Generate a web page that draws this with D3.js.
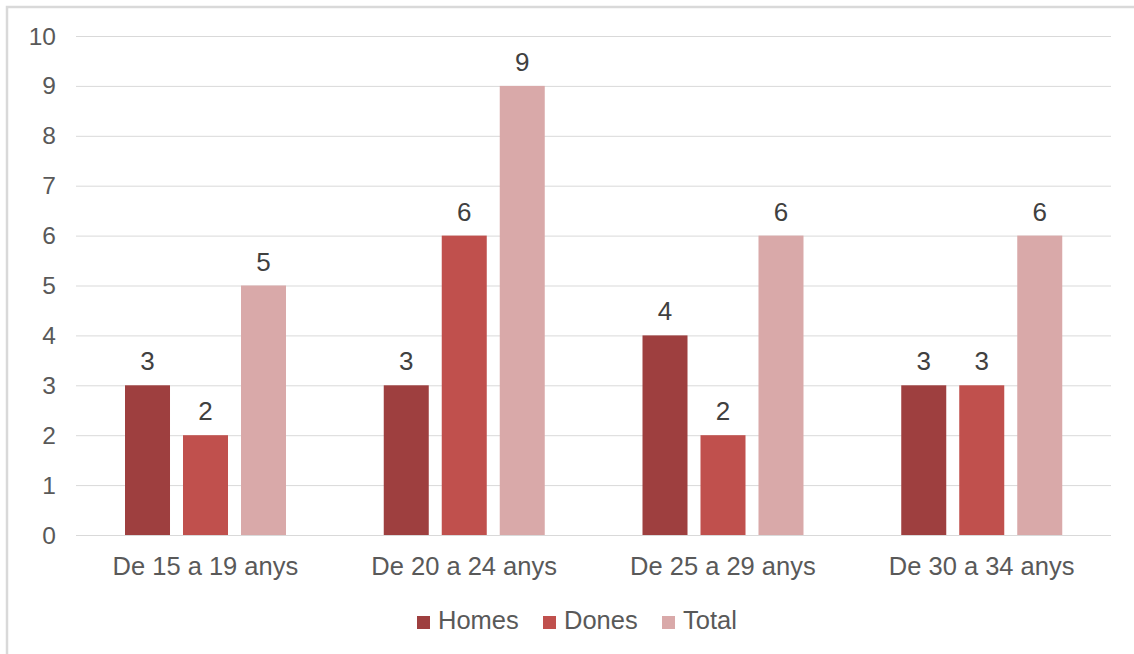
<!DOCTYPE html>
<html>
<head>
<meta charset="utf-8">
<script src="https://cdn.jsdelivr.net/npm/d3@7"></script>
<style>
  body { margin: 0; background: #fff; }
  text { font-family: "Liberation Sans", Arial, sans-serif; }
</style>
</head>
<body>
<script>
//chart data
var categories = ["De 15 a 19 anys", "De 20 a 24 anys", "De 25 a 29 anys", "De 30 a 34 anys"];
var seriesNames = ["Homes", "Dones", "Total"];
var homes = [3, 3, 4, 3];
var dones = [2, 6, 2, 3];
var total = [5, 9, 6, 6];
var yTicks = [0, 1, 2, 3, 4, 5, 6, 7, 8, 9, 10];
var colors = ["#9e3f3f", "#c0504d", "#d9a9a9"];

var width = 1134, height = 654;
var seriesValues = [homes, dones, total];

var svg = d3.select("body").append("svg")
    .attr("width", width)
    .attr("height", height);

//chart frame
svg.append("path")
    .attr("d", "M7,654 V7 H1134")
    .attr("fill", "none")
    .attr("stroke", "#d9d9d9")
    .attr("stroke-width", 2.5);

//scales
var x0 = d3.scaleBand()
    .domain(categories)
    .range([76, 1111]);

var x1 = d3.scaleBand()
    .domain(seriesNames)
    .range([49, 210])
    .paddingInner(0.224);

var y = d3.scaleLinear()
    .domain([0, 10])
    .range([535, 36]);

//gridlines
svg.selectAll(".grid")
    .data(yTicks)
    .enter()
    .append("line")
    .attr("class", "grid")
    .attr("x1", 76)
    .attr("x2", 1111)
    .attr("y1", function(d){ return y(d) + 0.5; })
    .attr("y2", function(d){ return y(d) + 0.5; })
    .attr("stroke", "#d9d9d9")
    .attr("stroke-width", 1);

//y tick labels
svg.selectAll(".ytick")
    .data(yTicks)
    .enter()
    .append("text")
    .attr("class", "ytick")
    .attr("x", 56)
    .attr("y", function(d){ return y(d); })
    .attr("dy", "0.35em")
    .attr("text-anchor", "end")
    .attr("font-size", 24.5)
    .attr("fill", "#595959")
    .text(function(d){ return d; });

//bars
var groups = svg.selectAll(".group")
    .data(categories)
    .enter()
    .append("g")
    .attr("class", "group")
    .attr("transform", function(d){ return "translate(" + x0(d) + ",0)"; });

groups.selectAll("rect")
    .data(function(d, i){
        return seriesNames.map(function(s, j){ return {series: s, value: seriesValues[j][i], color: colors[j]}; });
    })
    .enter()
    .append("rect")
    .attr("x", function(d){ return x1(d.series); })
    .attr("width", x1.bandwidth())
    .attr("y", function(d){ return y(d.value); })
    .attr("height", function(d){ return y(0) - y(d.value); })
    .attr("fill", function(d){ return d.color; });

//data labels
groups.selectAll(".label")
    .data(function(d, i){
        return seriesNames.map(function(s, j){ return {series: s, value: seriesValues[j][i]}; });
    })
    .enter()
    .append("text")
    .attr("class", "label")
    .attr("x", function(d){ return x1(d.series) + x1.bandwidth() / 2; })
    .attr("y", function(d){ return y(d.value) - 15; })
    .attr("text-anchor", "middle")
    .attr("font-size", 26)
    .attr("fill", "#404040")
    .text(function(d){ return d.value; });

//category labels
svg.selectAll(".xlabel")
    .data(categories)
    .enter()
    .append("text")
    .attr("class", "xlabel")
    .attr("x", function(d){ return x0(d) + x0.bandwidth() / 2; })
    .attr("y", 575)
    .attr("text-anchor", "middle")
    .attr("font-size", 25.5)
    .attr("fill", "#595959")
    .text(function(d){ return d; });

//legend
var legendX = [417, 543, 662];
var legend = svg.selectAll(".legend")
    .data(seriesNames)
    .enter()
    .append("g")
    .attr("class", "legend")
    .attr("transform", function(d, i){ return "translate(" + legendX[i] + ",616)"; });

legend.append("rect")
    .attr("width", 13)
    .attr("height", 13)
    .attr("fill", function(d, i){ return colors[i]; });

legend.append("text")
    .attr("x", 21)
    .attr("y", 13)
    .attr("font-size", 25.5)
    .attr("fill", "#595959")
    .text(function(d){ return d; });
</script>
</body>
</html>
